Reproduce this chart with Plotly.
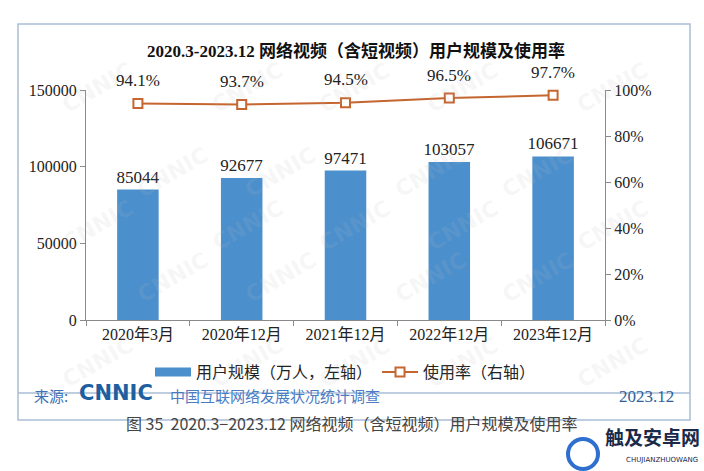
import plotly.graph_objects as go

categories = ["2020年3月", "2020年12月", "2021年12月", "2022年12月", "2023年12月"]
users = [85044, 92677, 97471, 103057, 106671]
rate = [94.1, 93.7, 94.5, 96.5, 97.7]
left_ticks = [0, 50000, 100000, 150000]
left_ticktext = ["0", "50000", "100000", "150000"]
right_ticks = [0, 20, 40, 60, 80, 100]
right_ticktext = ["0%", "20%", "40%", "60%", "80%", "100%"]

W, H = 704, 471
L, R, T, B = 86, 605, 90, 320
pw, ph = R - L, B - T


def px(x):
    return (x - L) / pw


def py(y):
    return (B - y) / ph


SERIF = "Liberation Serif, Noto Sans CJK SC, serif"
SANS = "Noto Sans CJK SC, Noto Sans, sans-serif"
TXT = "#222222"
AX = "#8a8a8a"
BLUE = "#4b8fcd"
ORANGE = "#c5652f"

fig = go.Figure()
fig.add_trace(go.Bar(
    x=categories, y=users, text=[str(v) for v in users], textposition="outside",
    constraintext="none",
    textfont=dict(family=SERIF, size=17, color=TXT), cliponaxis=False,
    marker=dict(color=BLUE, line=dict(width=0)), width=0.4,
    name="用户规模（万人，左轴）", showlegend=False,
))
# legend entry drawn as a wide bar swatch
fig.add_trace(go.Scatter(
    x=[None], y=[None], mode="lines", line=dict(color=BLUE, width=9),
    name="用户规模（万人，左轴）",
))
fig.add_trace(go.Scatter(
    x=categories, y=rate, yaxis="y2", mode="lines+markers",
    line=dict(color=ORANGE, width=2),
    marker=dict(symbol="square", size=9, color="white", line=dict(color=ORANGE, width=2)),
    name="使用率（右轴）", cliponaxis=False,
))

annotations = []
for c, v in zip(categories, rate):
    annotations.append(dict(x=c, y=v, xref="x", yref="y2", yshift=23, text=f"{v}%",
                            showarrow=False, font=dict(family=SERIF, size=17, color=TXT)))

# faint CNNIC watermarks
wm = []
for gy in range(5):
    for gx in range(5):
        x = 55 + gx * 150 + (gy % 2) * 75
        y = 55 + gy * 85
        if x > 670:
            continue
        wm.append(dict(x=px(x), y=py(y), xref="paper", yref="paper", text="<b>CNNIC</b>",
                       showarrow=False, textangle=-30,
                       font=dict(family="DejaVu Sans, sans-serif", size=22,
                                 color="rgba(190,190,190,0.13)")))
annotations = wm + annotations

# title
annotations.append(dict(x=px(356), y=py(39), xref="paper", yref="paper",
                        text="<b>2020.3-2023.12 网络视频（含短视频）用户规模及使用率</b>",
                        showarrow=False, font=dict(family=SERIF, size=17, color="#111111")))
# footer
annotations.append(dict(x=px(32), y=py(408), xref="paper", yref="paper", xanchor="left",
                        text="来源:", showarrow=False, font=dict(family=SANS, size=15, color="#3d72b8")))
annotations.append(dict(x=px(77), y=py(407), xref="paper", yref="paper", xanchor="left",
                        text="<b>CNNIC</b>", showarrow=False,
                        font=dict(family="DejaVu Sans, sans-serif", size=21, color="#1d5f9f")))
annotations.append(dict(x=px(168), y=py(408), xref="paper", yref="paper", xanchor="left",
                        text="中国互联网络发展状况统计调查", showarrow=False,
                        font=dict(family=SANS, size=15, color="#4a7cc4")))
annotations.append(dict(x=px(676), y=py(408), xref="paper", yref="paper", xanchor="right",
                        text="2023.12", showarrow=False,
                        font=dict(family=SERIF, size=17, color="#2f5f9a")))
# caption
annotations.append(dict(x=px(352), y=py(437), xref="paper", yref="paper",
                        text="图 35  2020.3−2023.12 网络视频（含短视频）用户规模及使用率", showarrow=False,
                        font=dict(family=SANS, size=16, color="#444444")))
# site watermark
annotations.append(dict(x=px(702), y=py(452), xref="paper", yref="paper", xanchor="right",
                        text="<b>触及安卓网</b>", showarrow=False,
                        font=dict(family=SANS, size=19, color="#1b2a4a")))
annotations.append(dict(x=px(700), y=py(466), xref="paper", yref="paper", xanchor="right",
                        text="CHUJIANZHUOWANG", showarrow=False,
                        font=dict(family="DejaVu Sans, sans-serif", size=7, color="#1b2a4a")))

shapes = [
    dict(type="rect", xref="paper", yref="paper", x0=px(18), x1=px(690), y0=py(420), y1=py(24),
         line=dict(color="#a9bdd6", width=1.5), layer="below", fillcolor="white"),
    dict(type="line", xref="paper", yref="paper", x0=px(18), x1=px(690), y0=py(393), y1=py(393),
         line=dict(color="#a9bdd6", width=1.5)),
    dict(type="circle", xref="paper", yref="paper", x0=px(568), x1=px(598), y0=py(469), y1=py(439),
         line=dict(color="#2e6fd0", width=4)),
]

fig.update_layout(
    width=W, height=H, margin=dict(l=L, r=W - R, t=T, b=H - B),
    paper_bgcolor="white", plot_bgcolor="rgba(0,0,0,0)",
    showlegend=True,
    legend=dict(orientation="h", x=0.5, xanchor="center", y=py(372), yanchor="middle",
                font=dict(family=SANS, size=16, color=TXT), itemwidth=36,
                bgcolor="rgba(0,0,0,0)", traceorder="normal", tracegroupgap=0),
    xaxis=dict(showline=True, linecolor=AX, linewidth=1.2, ticks="outside", tickson="boundaries",
               ticklen=5, tickcolor=AX, tickfont=dict(family=SERIF, size=16, color=TXT),
               showgrid=False),
    yaxis=dict(range=[0, 150000], tickvals=left_ticks, ticktext=left_ticktext, showline=True,
               linecolor=AX, linewidth=1.2, ticks="outside", ticklen=5, tickcolor=AX,
               showgrid=False, zeroline=False, tickfont=dict(family=SERIF, size=16, color=TXT)),
    yaxis2=dict(range=[0, 100], tickvals=right_ticks, ticktext=right_ticktext, overlaying="y",
                side="right", showline=True, linecolor=AX, linewidth=1.2, ticks="outside",
                ticklen=5, tickcolor=AX, showgrid=False, zeroline=False,
                tickfont=dict(family=SERIF, size=16, color=TXT)),
    annotations=annotations, shapes=shapes, bargap=0.6,
)

fig.write_html("out.html")
